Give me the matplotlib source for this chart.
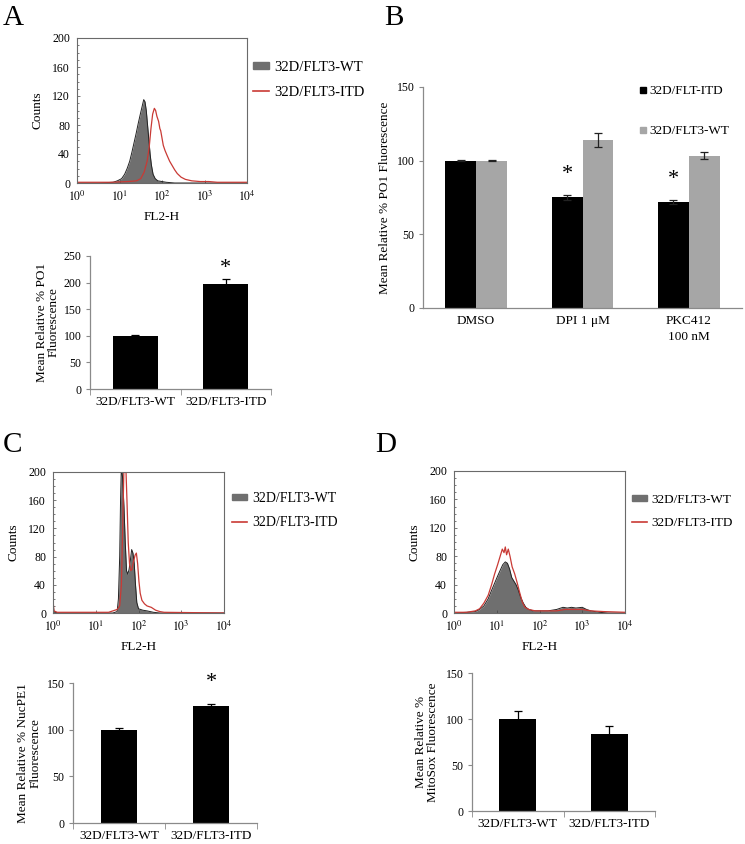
import numpy as np
import matplotlib
matplotlib.use("Agg")
import matplotlib.pyplot as plt
from matplotlib.patches import Patch
from matplotlib.lines import Line2D
from matplotlib.ticker import FixedLocator, NullFormatter, LogLocator

plt.rcParams['font.family'] = ['Liberation Serif', 'DejaVu Serif']
plt.rcParams['mathtext.fontset'] = 'stix'

# ---------------- data ----------------
hist_labels = ["32D/FLT3-WT", "32D/FLT3-ITD"]

# Panel A histogram (log10 FL2-H, counts)
A_wt_logx = [0.0, 0.5, 0.85, 0.95, 1.05, 1.12, 1.18, 1.24, 1.29, 1.34, 1.39, 1.44, 1.49, 1.53, 1.57,
             1.60, 1.63, 1.66, 1.69, 1.72, 1.75, 1.79, 1.84, 1.90, 2.0, 2.1, 2.3, 4.0]
A_wt_cnt = [0, 0, 1, 3, 6, 12, 20, 30, 42, 55, 68, 82, 95, 105, 115,
            112, 100, 80, 60, 40, 25, 12, 6, 3, 2, 1, 0, 0]
A_itd_logx = [0.0, 0.8, 1.2, 1.4, 1.5, 1.58, 1.65, 1.70, 1.74, 1.78, 1.82, 1.85, 1.88, 1.92, 1.95, 1.97,
              2.0, 2.03, 2.07, 2.12, 2.18, 2.24, 2.30, 2.36, 2.45, 2.55, 2.7, 2.9, 3.1, 3.3, 4.0]
A_itd_cnt = [1, 1, 2, 3, 6, 15, 30, 50, 75, 95, 103, 100, 92, 85, 75, 72,
             62, 52, 45, 38, 30, 24, 18, 13, 8, 5, 3, 2, 2, 1, 1]

# Panel C histogram
C_wt_logx = [0.0, 0.02, 0.1, 1.4, 1.5, 1.53, 1.56, 1.58, 1.60, 1.63, 1.66, 1.69, 1.72, 1.75, 1.78, 1.81,
             1.84, 1.87, 1.90, 1.93, 1.96, 2.0, 2.1, 2.2, 2.35, 2.5, 4.0]
C_wt_cnt = [18, 2, 0, 0, 2, 20, 80, 160, 210, 190, 150, 100, 60, 55, 62, 75,
            90, 85, 70, 40, 15, 6, 4, 3, 1, 0, 0]
C_itd_logx = [0.0, 0.02, 0.1, 1.3, 1.4, 1.5, 1.56, 1.60, 1.63, 1.66, 1.70, 1.73, 1.76, 1.79, 1.82, 1.85,
              1.88, 1.92, 1.95, 1.98, 2.01, 2.04, 2.08, 2.14, 2.2, 2.3, 2.4, 2.5, 2.6, 4.0]
C_itd_cnt = [20, 3, 1, 1, 3, 5, 10, 40, 120, 210, 215, 160, 100, 70, 60, 62,
             72, 82, 85, 70, 45, 28, 18, 13, 10, 8, 4, 2, 1, 0]

# Panel D histogram
D_wt_logx = [0.0, 0.3, 0.5, 0.6, 0.7, 0.8, 0.88, 0.95, 1.02, 1.08, 1.14, 1.2, 1.25, 1.3, 1.35, 1.4, 1.45,
             1.5, 1.56, 1.62, 1.68, 1.75, 1.85, 2.0, 2.2, 2.4, 2.55, 2.65, 2.75, 2.85, 3.0, 3.1, 3.2, 3.4, 3.6, 4.0]
D_wt_cnt = [0, 1, 2, 5, 10, 20, 32, 42, 52, 60, 68, 72, 70, 62, 50, 45, 40,
            33, 22, 14, 8, 5, 3, 3, 3, 5, 8, 7, 8, 7, 8, 5, 3, 1, 0, 0]
D_itd_logx = [0.0, 0.3, 0.5, 0.6, 0.7, 0.8, 0.88, 0.95, 1.02, 1.08, 1.13, 1.17, 1.2, 1.23, 1.27, 1.31, 1.36,
              1.42, 1.48, 1.54, 1.6, 1.66, 1.75, 1.9, 2.1, 2.4, 2.6, 2.8, 3.0, 3.2, 3.5, 4.0]
D_itd_cnt = [1, 1, 3, 6, 14, 25, 40, 55, 68, 80, 90, 85, 93, 82, 90, 80, 65,
             55, 42, 28, 15, 8, 5, 3, 3, 3, 5, 5, 5, 3, 2, 1]

# Bar charts
two_cats = ["32D/FLT3-WT", "32D/FLT3-ITD"]
A_bar_vals = [100, 198]
A_bar_err = [1, 8]
C_bar_vals = [100, 125]
C_bar_err = [2, 3]
D_bar_vals = [100, 84]
D_bar_err = [9, 8]

B_cats = ["DMSO", "DPI 1 \u03bcM", "PKC412\n100 nM"]
B_series = ["32D/FLT-ITD", "32D/FLT3-WT"]
B_itd_vals = [100, 75, 72]
B_itd_err = [0.5, 2, 1.5]
B_wt_vals = [100, 114, 103.5]
B_wt_err = [0.5, 4.7, 2.5]

# ---------------- figure ----------------
W, H = 745, 844
fig = plt.figure(figsize=(W / 100, H / 100), dpi=100)

def ax_px(l, t, r, b):
    return fig.add_axes([l / W, 1 - b / H, (r - l) / W, (b - t) / H])

GRAY = "#6f6f6f"
RED = "#c93a35"
SPINE = "#6a6a6a"
TICKFS = 8.5

def hist_panel(box, wx, wy, ix, iy, legend_xy, legfs):
    ax = ax_px(*box)
    x1 = 10 ** np.array(wx, dtype=float)
    x2 = 10 ** np.array(ix, dtype=float)
    ax.fill_between(x1, wy, 0, color=GRAY, linewidth=0)
    ax.plot(x1, wy, color="#222222", lw=0.7)
    ax.plot(x2, iy, color=RED, lw=0.9)
    ax.set_xscale('log')
    ax.set_xlim(1, 1e4)
    ax.set_ylim(0, 200)
    ax.set_yticks([0, 40, 80, 120, 160, 200])
    ax.yaxis.set_minor_locator(FixedLocator(np.arange(0, 201, 10)))
    ax.set_xticks([1, 10, 100, 1000, 10000])
    ax.set_xticklabels([r"$10^{0}$", r"$10^{1}$", r"$10^{2}$", r"$10^{3}$", r"$10^{4}$"])
    ax.xaxis.set_minor_locator(LogLocator(base=10, subs=np.arange(2, 10)))
    ax.xaxis.set_minor_formatter(NullFormatter())
    ax.tick_params(which='both', direction='in', length=2.5, width=0.5, color="#444444",
                   labelsize=TICKFS, pad=5)
    ax.tick_params(which='minor', length=1.5)
    for s in ax.spines.values():
        s.set_color(SPINE)
        s.set_linewidth(0.8)
    ax.set_ylabel("Counts", fontsize=9.5, labelpad=6)
    ax.set_xlabel("FL2-H", fontsize=9.5, labelpad=5)
    handles = [Patch(facecolor=GRAY, edgecolor=GRAY),
               Line2D([0], [0], color=RED, lw=1.2)]
    fig.legend(handles, hist_labels, loc='upper left',
               bbox_to_anchor=(legend_xy[0] / W, 1 - legend_xy[1] / H),
               frameon=False, fontsize=legfs, handlelength=1.1, handleheight=0.35,
               handletextpad=0.35, labelspacing=0.8, borderpad=0, borderaxespad=0)
    return ax

def style_bar_axes(ax, ncat):
    for s in ['top', 'right']:
        ax.spines[s].set_visible(False)
    for s in ['left', 'bottom']:
        ax.spines[s].set_color("#8a8a8a")
        ax.spines[s].set_linewidth(0.9)
    ax.set_xlim(-0.5, ncat - 0.5)
    ax.xaxis.set_minor_locator(FixedLocator(np.arange(-0.5, ncat, 1.0)))
    ax.tick_params(axis='x', which='major', length=0, labelsize=9.5, pad=5)
    ax.tick_params(axis='x', which='minor', length=4, color="#8a8a8a", direction='out')
    ax.tick_params(axis='y', which='major', length=3, color="#8a8a8a", labelsize=TICKFS, pad=3)

def two_bar_panel(box, vals, errs, ylim, yticks, ylabel, star, star_off, labelpad, width):
    ax = ax_px(*box)
    x = np.arange(len(two_cats))
    ax.bar(x, vals, width=width, color='black')
    ax.errorbar(x, vals, yerr=errs, fmt='none', ecolor='black', elinewidth=0.9, capsize=3, capthick=0.9)
    ax.set_xticks(x)
    ax.set_xticklabels(two_cats)
    ax.set_ylim(*ylim)
    ax.set_yticks(yticks)
    style_bar_axes(ax, len(two_cats))
    ax.set_ylabel(ylabel, fontsize=9.5, linespacing=1.0, labelpad=labelpad)
    if star:
        ax.annotate("*", xy=(1, vals[1] + errs[1]), xytext=(0, star_off), textcoords='offset points',
                    ha='center', va='center', fontsize=16)
    return ax

# Panel A
hist_panel((77, 38, 247, 183), A_wt_logx, A_wt_cnt, A_itd_logx, A_itd_cnt, (253, 61), 10.5)
two_bar_panel((90, 256, 271, 389), A_bar_vals, A_bar_err, (0, 250), [0, 50, 100, 150, 200, 250],
              "Mean Relative % PO1\nFluorescence", True, 8, 3, 0.5)

# Panel B
axB = ax_px(423, 87, 742, 308)
xb = np.arange(len(B_cats))
bw = 0.29
axB.bar(xb - bw / 2, B_itd_vals, width=bw, color='black', label=B_series[0])
axB.bar(xb + bw / 2, B_wt_vals, width=bw, color='#a6a6a6', label=B_series[1])
axB.errorbar(xb - bw / 2, B_itd_vals, yerr=B_itd_err, fmt='none', ecolor='#222222',
             elinewidth=0.9, capsize=3, capthick=0.9)
axB.errorbar(xb + bw / 2, B_wt_vals, yerr=B_wt_err, fmt='none', ecolor='#222222',
             elinewidth=0.9, capsize=3, capthick=0.9)
axB.set_xticks(xb)
axB.set_xticklabels(B_cats, linespacing=1.5)
axB.set_ylim(0, 150)
axB.set_yticks([0, 50, 100, 150])
style_bar_axes(axB, len(B_cats))
axB.tick_params(axis='x', which='minor', length=0)
axB.set_ylabel("Mean Relative % PO1 Fluorescence", fontsize=9.5, labelpad=4)
for i in (1, 2):
    axB.annotate("*", xy=(xb[i] - bw / 2, B_itd_vals[i] + B_itd_err[i]), xytext=(0, 14.5),
                 textcoords='offset points', ha='center', va='center', fontsize=16)
hB = [Line2D([0], [0], marker='s', color='black', linestyle='none', markersize=3.8),
      Line2D([0], [0], marker='s', color='#a6a6a6', linestyle='none', markersize=3.8)]
fig.legend(hB, B_series, loc='upper left', bbox_to_anchor=(640 / W, 1 - 85 / H), frameon=False,
           fontsize=9.5, handlelength=0.45, handletextpad=0.25, labelspacing=2.1,
           borderpad=0, borderaxespad=0)

# Panel C
hist_panel((53, 472, 224, 613), C_wt_logx, C_wt_cnt, C_itd_logx, C_itd_cnt, (232, 492), 10)
two_bar_panel((73, 683, 257, 823), C_bar_vals, C_bar_err, (0, 150), [0, 50, 100, 150],
              "Mean Relative % NucPE1\nFluorescence", True, 15, 4, 0.4)

# Panel D
hist_panel((454, 471, 625, 613), D_wt_logx, D_wt_cnt, D_itd_logx, D_itd_cnt, (632, 494), 9.5)
two_bar_panel((472, 673, 655, 811), D_bar_vals, D_bar_err, (0, 150), [0, 50, 100, 150],
              "Mean Relative %\nMitoSox Fluorescence", False, 0, 5, 0.4)

# Panel letters
for letter, (px, py) in {"A": (3, 25), "B": (384, 25), "C": (3, 452), "D": (375, 452)}.items():
    fig.text(px / W, 1 - py / H, letter, fontsize=21, ha='left', va='baseline')

fig.savefig("out.png", dpi=100)
